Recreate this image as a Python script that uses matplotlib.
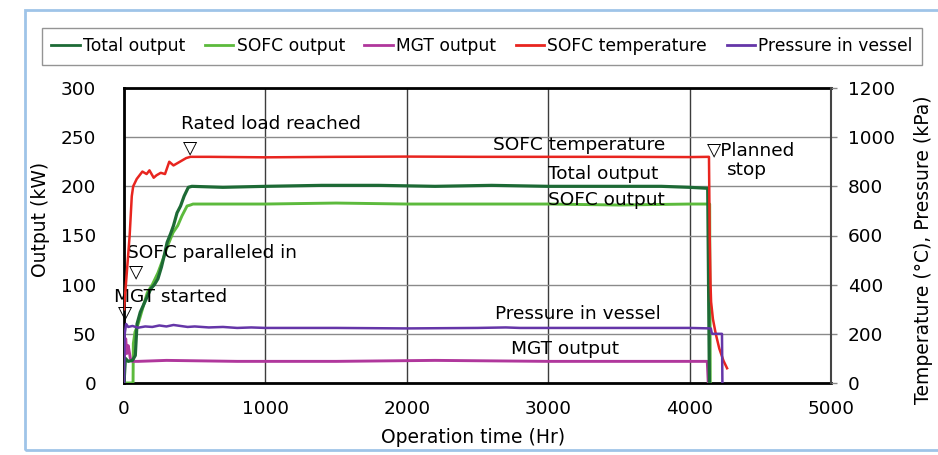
import matplotlib
matplotlib.use("Agg")
import matplotlib.pyplot as plt
from matplotlib.lines import Line2D
from matplotlib.patches import Rectangle

plt.rcParams["font.family"] = ["DejaVu Sans", "Noto Sans CJK JP"]

# --- data (left axis kW, right axis degC / kPa) ---
total_t = [0, 10, 30, 60, 80, 92, 115, 140, 165, 190, 215, 240, 265, 285, 305,
           330, 350, 375, 400, 425, 455, 480, 700, 1000, 1400, 1800, 2200,
           2600, 3000, 3400, 3800, 4000, 4128, 4140]
total_kw = [0, 25, 22, 23, 28, 60, 72, 80, 88, 96, 100, 106, 118, 130, 143,
            152, 160, 173, 180, 190, 199, 200, 199, 200, 201, 201, 200,
            201, 200, 200, 200, 199, 198, 0]

sofc_t = [0, 64, 66, 78, 100, 130, 165, 200, 240, 276, 310, 347, 380, 410,
          446, 470, 488, 700, 1000, 1500, 2000, 2500, 3000, 3500, 4000, 4142, 4146]
sofc_kw = [0, 0, 40, 52, 60, 75, 92, 100, 112, 126, 140, 153, 160, 170,
           180, 181, 182, 182, 182, 183, 182, 182, 182, 181, 182, 182, 0]

mgt_t = [0, 5, 12, 20, 30, 45, 60, 100, 300, 800, 1500, 2200, 3000, 3600,
         4000, 4125, 4132]
mgt_kw = [0, 35, 45, 30, 38, 25, 22, 22, 23, 22, 22, 23, 22, 22,
          22, 22, 0]

temp_t = [0, 20, 40, 55, 65, 90, 130, 160, 180, 210, 230, 260, 290, 320, 350,
          380, 410, 440, 470, 600, 1000, 1500, 2000, 2500, 3000, 3500, 4000,
          4137, 4142, 4148, 4152, 4165, 4185, 4210, 4240, 4265]
temp_c = [300, 450, 600, 760, 800, 830, 860, 850, 865, 835, 845, 855, 850,
          900, 885, 895, 905, 915, 920, 920, 918, 920, 921, 920, 920, 920, 919,
          920, 600, 400, 330, 260, 200, 140, 90, 60]

press_t = [0, 5, 15, 30, 60, 100, 150, 200, 250, 300, 350, 400, 450, 500, 600,
           700, 800, 900, 1000, 1500, 2000, 2500, 2700, 2800, 3000, 3500,
           4000, 4150, 4158, 4229, 4232]
press_kpa = [0, 200, 240, 228, 232, 225, 230, 228, 234, 230, 236, 232, 228,
             230, 226, 228, 224, 226, 224, 224, 222, 224, 226, 224, 224, 224,
             224, 222, 200, 200, 0]

series_names = ["Total output", "SOFC output", "MGT output",
                "SOFC temperature", "Pressure in vessel"]
colors = ["#1d6a35", "#5cba3c", "#b0379c", "#e8251f", "#6536a8"]

fig = plt.figure(figsize=(9.38, 4.55), dpi=100)
ax = fig.add_axes([124 / 938, 1 - 383 / 455, 707 / 938, 295 / 455])
ax2 = ax.twinx()

ax.plot(total_t, total_kw, color=colors[0], lw=2.3, zorder=4)
ax.plot(sofc_t, sofc_kw, color=colors[1], lw=2.1, zorder=3)
ax.plot(mgt_t, mgt_kw, color=colors[2], lw=2.1, zorder=3)
ax2.plot(temp_t, temp_c, color=colors[3], lw=1.8)
ax2.plot(press_t, press_kpa, color=colors[4], lw=1.8)

ax.set_xlim(0, 5000)
ax.set_ylim(0, 300)
ax2.set_ylim(0, 1200)
ax.set_xticks(range(0, 5001, 1000))
ax.set_yticks(range(0, 301, 50))
ax2.set_yticks(range(0, 1201, 200))

ax.set_axisbelow(True)
ax.yaxis.grid(True, color="#8a8a8a", lw=1)
ax.xaxis.grid(True, color="#3c3c3c", lw=1)

for side in ["left", "bottom", "top"]:
    ax.spines[side].set_linewidth(2)
ax.spines["right"].set_visible(False)
for side in ["left", "bottom", "top"]:
    ax2.spines[side].set_visible(False)
ax2.spines["right"].set_color("#444444")
ax2.spines["right"].set_linewidth(1.5)

ax.tick_params(axis="both", length=0, labelsize=13.3)
ax.tick_params(axis="y", pad=20)
ax.tick_params(axis="x", pad=12)
ax2.tick_params(axis="y", length=4, width=1, color="#888888", labelsize=13.3, pad=8)

ax.set_xlabel("Operation time (Hr)", fontsize=13.5)
ax.xaxis.set_label_coords(0.494, -0.152)
ax.set_ylabel("Output (kW)", fontsize=13.5)
ax.yaxis.set_label_coords(-0.105, 0.553)
ax2.set_ylabel("Temperature (°C), Pressure (kPa)", fontsize=13.5)
ax2.yaxis.set_label_coords(1.117, 0.451)

# annotations
ann = dict(fontsize=13.3, va="center", clip_on=False, zorder=6)
ax.text(403, 263, "Rated load reached", **ann)
ax.text(467, 239, "▽", ha="center", **ann)
ax.text(21, 132, "SOFC paralleled in", **ann)
ax.text(85, 113, "▽", ha="center", **ann)
ax.text(-71, 87.5, "MGT started", **ann)
ax.text(7, 71, "▽", ha="center", **ann)
ax.text(2610, 242, "SOFC temperature", **ann)
ax.text(2999, 212.5, "Total output", **ann)
ax.text(2999, 186, "SOFC output", **ann)
ax.text(4123, 237, "▽Planned", **ann)
ax.text(4264, 216.5, "stop", **ann)
ax.text(2624, 70, "Pressure in vessel", **ann)
ax.text(2737, 34.6, "MGT output", **ann)

handles = [Line2D([], [], color=c, lw=2) for c in colors]
leg = fig.legend(handles, series_names, loc="upper left",
                 bbox_to_anchor=(42 / 938, 1 - 28 / 455), ncol=5,
                 fontsize=12.3, frameon=True, fancybox=False,
                 edgecolor="#7a7a7a", handlelength=1.65, handletextpad=0.2,
                 columnspacing=1.15, borderpad=0.55, borderaxespad=0)
leg.get_frame().set_linewidth(1)

fig.patches.append(Rectangle((25 / 938, 1 - 450 / 455), 0.99, 440 / 455,
                             transform=fig.transFigure, fill=False,
                             edgecolor="#9fc4e8", lw=2))

fig.savefig("out.png", dpi=100)
